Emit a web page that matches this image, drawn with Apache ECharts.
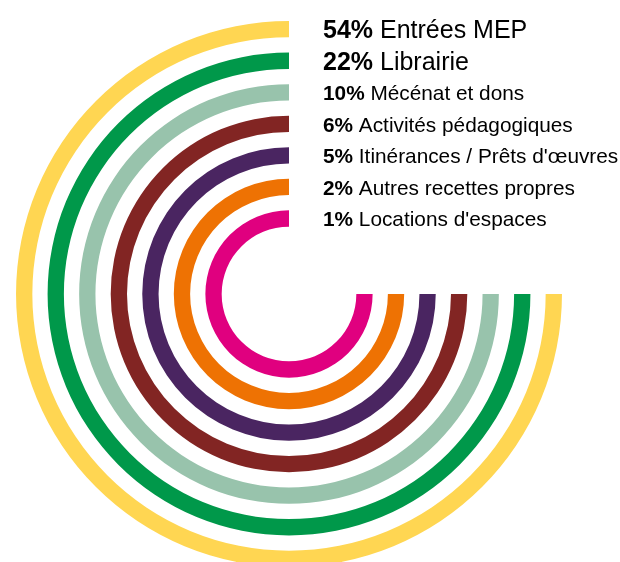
<!DOCTYPE html>
<html><head><meta charset="utf-8">
<script src="https://cdn.jsdelivr.net/npm/echarts@6/dist/echarts.min.js"></script>
<style>html,body{margin:0;padding:0;background:#fff}#c{width:620px;height:562px}</style>
</head><body><div id="c"></div>
<script>
// Outer ring first
const categories = ['Entrées MEP', 'Librairie', 'Mécénat et dons', 'Activités pédagogiques', 'Itinérances / Prêts d\'œuvres', 'Autres recettes propres', 'Locations d\'espaces'];
const shares = [54, 22, 10, 6, 5, 2, 1];
const colors = ['#FFD652', '#00984A', '#98C3AC', '#822523', '#4A2561', '#EE7203', '#E0007F'];
const arcDegrees = [270, 270, 270, 270, 270, 270, 270];
const bigLabels = [true, true, false, false, false, false, false];

const chart = echarts.init(document.getElementById('c'), null, {renderer: 'canvas'});
const font = '"Liberation Sans", Arial, sans-serif';
chart.setOption({
  animation: false,
  backgroundColor: '#ffffff',
  polar: {center: [289, 294], radius: [59.7, 280.6]},
  angleAxis: {
    type: 'value', min: 0, max: 360, startAngle: 90, clockwise: false,
    axisLine: {show: false}, axisTick: {show: false}, axisLabel: {show: false}, splitLine: {show: false}
  },
  radiusAxis: {
    type: 'category', data: categories, inverse: true,
    axisLine: {show: false}, axisTick: {show: false}, splitLine: {show: false},
    axisLabel: {
      interval: 0, margin: -34, align: 'left', verticalAlign: 'middle', color: '#000',
      fontFamily: font, padding: [4, 0, 0, 0],
      formatter: function (value, index) {
        return bigLabels[index]
          ? '{pb|' + shares[index] + '%}{nb| ' + value + '}'
          : '{ps|' + shares[index] + '%}{ns| ' + value + '}';
      },
      rich: {
        pb: {fontWeight: 'bold', fontSize: 25, fontFamily: font, color: '#000'},
        nb: {fontSize: 25, fontFamily: font, color: '#000'},
        ps: {fontWeight: 'bold', fontSize: 20.8, fontFamily: font, color: '#000'},
        ns: {fontSize: 20.8, fontFamily: font, color: '#000'}
      }
    }
  },
  series: [{
    type: 'bar', coordinateSystem: 'polar', barWidth: 16.3,
    data: arcDegrees.map((v, i) => ({value: v, itemStyle: {color: colors[i]}}))
  }]
});
</script></body></html>
